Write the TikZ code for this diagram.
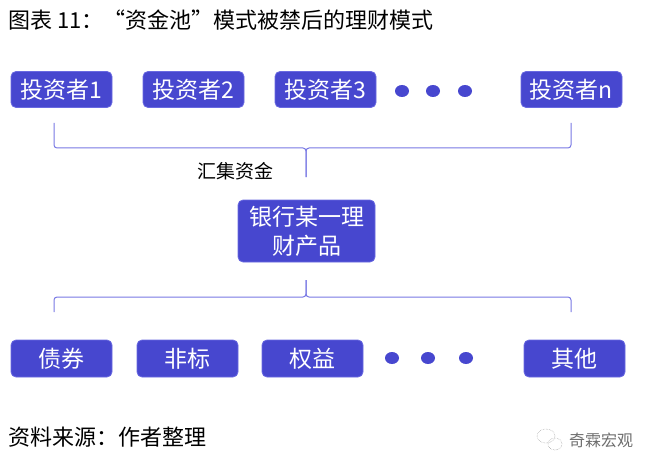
\documentclass[tikz,border=0pt]{standalone}
\usepackage{fontspec}
\setmainfont{Noto Sans CJK SC}
\usetikzlibrary{shapes.geometric}
\definecolor{boxblue}{RGB}{71,71,207}
\definecolor{boxedge}{RGB}{105,105,225}
\definecolor{bracecol}{RGB}{120,120,228}
\definecolor{markgray}{RGB}{110,110,110}
\tikzset{
  boxnode/.style={rectangle, rounded corners=5pt, fill=boxblue, draw=boxedge, line width=0.8pt,
    text=white, minimum width=101pt, minimum height=36pt, inner sep=0pt,
    font=\fontsize{23}{27}\selectfont},
  dotmark/.style={ellipse, fill=boxblue, draw=none, minimum width=14pt, minimum height=12pt, inner sep=0pt},
  bracestyle/.style={draw=bracecol, line width=1pt, rounded corners=3pt},
  plaintext/.style={inner sep=0pt, font=\fontsize{22}{26}\selectfont},
}
\begin{document}
\begin{tikzpicture}[x=1pt, y=-1pt]
\useasboundingbox (0,0) rectangle (653,468);
% title
\node[plaintext, anchor=west] (title) at (8,20) {图表 11：“资金池”模式被禁后的理财模式};
% top boxes
\node[boxnode] (inv1) at (61.5,89.5) {投资者1};
\node[boxnode] (inv2) at (193.5,89.5) {投资者2};
\node[boxnode] (inv3) at (325.5,89.5) {投资者3};
\node[dotmark] (td1) at (402,91) {};
\node[dotmark] (td2) at (433,91) {};
\node[dotmark] (td3) at (465,91) {};
\node[boxnode] (invn) at (571.5,89.5) {投资者n};
% top brace
\coordinate (tbl) at (54,123);
\coordinate (tbr) at (571,123);
\coordinate (tbm) at (306,148);
\coordinate (tbt) at (306,177);
\draw[bracestyle] (tbl) |- (tbm) -- (tbt);
\draw[bracestyle] (tbr) |- (tbm) -- (tbt);
\node[inner sep=0pt, font=\fontsize{19}{22}\selectfont] (collect) at (235,171) {汇集资金};
% product
\node[boxnode, minimum width=137pt, minimum height=62pt, align=center,
  font=\fontsize{23}{29}\selectfont] (prod) at (306.5,231) {银行某一理\\财产品};
% bottom brace
\coordinate (bbt) at (306,280);
\coordinate (bbm) at (306,297);
\coordinate (bbl) at (54,312);
\coordinate (bbr) at (571,312);
\draw[bracestyle] (bbt) -- (bbm) -| (bbl);
\draw[bracestyle] (bbt) -- (bbm) -| (bbr);
% bottom boxes
\node[boxnode, minimum height=37pt] (bond) at (61.5,358.5) {债券};
\node[boxnode, minimum height=37pt] (nonstd) at (187.5,358.5) {非标};
\node[boxnode, minimum height=37pt] (equity) at (312.5,358.5) {权益};
\node[dotmark] (bd1) at (392,358) {};
\node[dotmark] (bd2) at (428,358) {};
\node[dotmark] (bd3) at (466,358) {};
\node[boxnode, minimum height=37pt] (other) at (574.5,358.5) {其他};
% footer
\node[plaintext, anchor=west] (source) at (8,437) {资料来源：作者整理};
% watermark
\draw[markgray!70, line width=0.5pt, densely dotted] (546,436) ellipse (9pt and 7pt);
\draw[markgray!70, line width=0.5pt, densely dotted] (555,444) ellipse (7pt and 6pt);
\node[inner sep=0pt, anchor=west, text=markgray, font=\fontsize{16}{18}\selectfont] (wm) at (569,440) {奇霖宏观};
\end{tikzpicture}
\end{document}
